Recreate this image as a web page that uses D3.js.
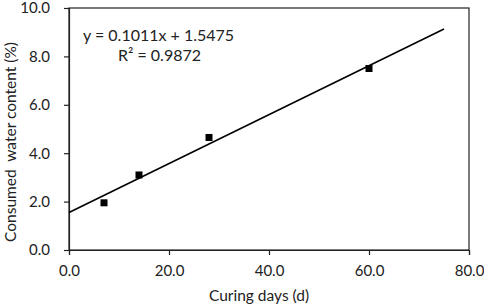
<!DOCTYPE html>
<html>
<head>
<meta charset="utf-8">
<script src="https://cdn.jsdelivr.net/npm/d3@7"></script>
<style>
  body { margin: 0; background: #fff; }
  text { font-family: Lato, "Open Sans", sans-serif; fill: #222; }
</style>
</head>
<body>
<svg width="484" height="307"></svg>
<script>
const curingDays = [7, 14, 28, 60];
const waterContent = [1.95, 3.1, 4.65, 7.5];
const xTicks = [0, 20, 40, 60, 80];
const yTicks = [0, 2, 4, 6, 8, 10];
const slope = 0.1011;
const intercept = 1.5475;
const fitRange = [0, 75];

const svg = d3.select('svg');
const width = +svg.attr('width');
const height = +svg.attr('height');
const margin = {top: 8, right: 15, bottom: 57, left: 69};
const innerWidth = width - margin.left - margin.right;
const innerHeight = height - margin.top - margin.bottom;

const xScale = d3.scaleLinear().domain([0, 80]).range([0, innerWidth]);
const yScale = d3.scaleLinear().domain([0, 10]).range([innerHeight, 0]);

const g = svg.append('g')
	.attr('transform', `translate(${margin.left},${margin.top})`);

// frame
g.append('rect')
	.attr('width', innerWidth)
	.attr('height', innerHeight)
	.attr('fill', 'none')
	.attr('stroke', '#222')
	.attr('stroke-width', 1.2);

const xAxis = d3.axisBottom(xScale)
	.tickValues(xTicks)
	.tickFormat(d3.format('.1f'))
	.tickSize(5)
	.tickPadding(10);

const yAxis = d3.axisLeft(yScale)
	.tickValues(yTicks)
	.tickFormat(d3.format('.1f'))
	.tickSize(5)
	.tickPadding(14);

const xAxisG = g.append('g')
	.attr('transform', `translate(0,${innerHeight})`)
	.call(xAxis);
const yAxisG = g.append('g').call(yAxis);

[xAxisG, yAxisG].forEach(a => {
	a.select('.domain').attr('stroke', '#222').attr('stroke-width', 1.2);
	a.selectAll('.tick line').attr('stroke', '#222').attr('stroke-width', 1.2);
	a.selectAll('.tick text').attr('font-size', 15).attr('fill', '#222')
		.style('font-family', 'Lato, "Open Sans", sans-serif');
});

// trend line
const fit = fitRange.map(x => ({x, y: slope * x + intercept}));
g.append('path')
	.datum(fit)
	.attr('fill', 'none')
	.attr('stroke', '#000')
	.attr('stroke-width', 1.6)
	.attr('d', d3.line().x(d => xScale(d.x)).y(d => yScale(d.y)));

// points
const pts = curingDays.map((d, i) => ({x: d, y: waterContent[i]}));
const s = 7;
g.selectAll('rect.pt').data(pts)
	.enter().append('rect')
		.attr('class', 'pt')
		.attr('x', d => xScale(d.x) - s / 2)
		.attr('y', d => yScale(d.y) - s / 2)
		.attr('width', s)
		.attr('height', s)
		.attr('fill', '#000');

// equation
g.append('text')
	.attr('x', 14)
	.attr('y', 33)
	.attr('font-size', 16)
	.text(`y = ${slope}x + ${intercept}`);
g.append('text')
	.attr('x', 49)
	.attr('y', 53)
	.attr('font-size', 16)
	.text('R² = 0.9872');

// axis labels
svg.append('text')
	.attr('x', 259)
	.attr('y', 301)
	.attr('text-anchor', 'middle')
	.attr('font-size', 15.5)
	.text('Curing days (d)');

svg.append('text')
	.attr('transform', 'translate(16,142) rotate(-90)')
	.attr('text-anchor', 'middle')
	.attr('font-size', 15.5)
	.style('white-space', 'pre')
	.text('Consumed  water content (%)');
</script>
</body>
</html>
